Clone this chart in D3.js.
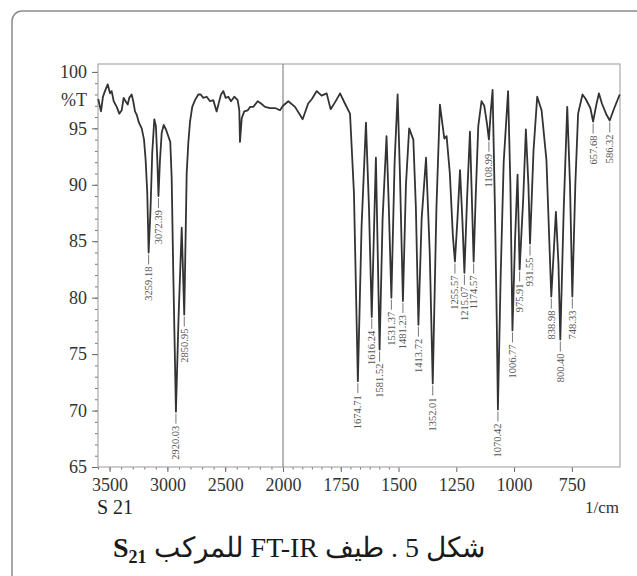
<!DOCTYPE html>
<html>
<head>
<meta charset="utf-8">
<script src="https://cdn.jsdelivr.net/npm/d3@7"></script>
<style>
body { margin: 0; background: #fff; }
</style>
</head>
<body>
<script>
// spectrum: wavenumber (1/cm) and %T
var wavenumber = [3598, 3574, 3557, 3540, 3516, 3496, 3482, 3464, 3438, 3416, 3395, 3378, 3361, 3343, 3330, 3309,
  3295, 3280, 3265, 3246, 3222, 3202, 3188, 3174, 3162, 3146, 3131, 3113, 3099, 3087, 3077, 3064, 3049, 3032,
  3012, 2992, 2975, 2963, 2949, 2926, 2904, 2876, 2854, 2843, 2833, 2819, 2804, 2785, 2761, 2733, 2712, 2689,
  2660, 2631, 2603, 2574, 2554, 2536, 2516, 2496, 2473, 2450, 2421, 2392, 2378, 2372, 2357, 2335, 2305, 2285,
  2257, 2219, 2190, 2156, 2112, 2069, 2026, 2000, 1977, 1948, 1915, 1891, 1875, 1854, 1833, 1811, 1794, 1775,
  1753, 1732, 1710, 1693, 1676, 1660, 1641, 1628, 1616, 1598, 1582, 1569, 1552, 1542, 1531, 1517, 1504, 1494,
  1481, 1468, 1454, 1436, 1425, 1414, 1400, 1381, 1365, 1352, 1336, 1321, 1302, 1292, 1278, 1265, 1256, 1245,
  1234, 1224, 1215, 1203, 1191, 1183, 1175, 1166, 1155, 1141, 1129, 1118, 1109, 1101, 1093, 1083, 1075, 1070,
  1058, 1045, 1026, 1016, 1007, 996, 985, 976, 960, 949, 938, 931, 916, 900, 881, 860, 839, 819, 808, 800, 785,
  770, 758, 748, 735, 723, 704, 690, 670, 658, 645, 633, 620, 600, 586, 570, 543];
var transmittance = [97.6, 96.5, 97.8, 98.3, 98.9, 98.1, 98.3, 97.4, 96.9, 96.3, 96.6, 97.7, 97.4, 97.1, 97.7, 98.0,
  97.4, 96.5, 96.2, 95.5, 95.0, 94.0, 92.2, 89.3, 84.0, 87.8, 92.8, 95.8, 95.2, 92.2, 89.0, 92.2, 94.6, 95.3,
  94.9, 94.3, 93.8, 90.7, 82.2, 69.9, 78.0, 86.2, 78.5, 85.0, 91.0, 93.7, 95.6, 96.9, 97.5, 98.0, 98.0, 97.7,
  97.8, 97.4, 97.5, 96.5, 97.3, 98.0, 98.3, 97.7, 97.8, 97.4, 97.8, 97.5, 96.6, 93.8, 95.9, 96.5, 96.6, 96.9,
  96.9, 97.4, 97.2, 96.9, 96.8, 96.8, 96.6, 97.0, 97.4, 96.9, 95.8, 97.2, 97.6, 98.3, 97.9, 98.1, 96.7, 97.3,
  98.1, 97.2, 96.3, 89.3, 72.6, 86.3, 95.5, 88.0, 78.3, 92.4, 75.4, 87.0, 94.3, 88.0, 80.0, 92.0, 98.0, 91.0,
  79.7, 90.0, 95.0, 94.0, 88.0, 77.6, 87.0, 92.4, 84.0, 72.4, 88.0, 97.1, 94.1, 94.3, 91.0, 85.5, 83.2, 87.0,
  91.3, 87.0, 82.2, 89.0, 94.7, 89.0, 83.2, 89.0, 95.2, 97.4, 97.0, 95.5, 94.0, 96.5, 98.4, 88.0, 78.0, 70.1,
  82.0, 92.0, 98.3, 90.0, 77.1, 85.0, 90.9, 82.5, 89.0, 94.9, 90.0, 84.8, 93.0, 97.8, 96.6, 92.2, 80.1, 87.6,
  83.0, 76.3, 88.0, 96.9, 90.0, 80.1, 90.0, 96.3, 98.0, 97.6, 96.8, 95.6, 97.0, 98.1, 97.2, 96.2, 95.7, 96.6, 98.0];

// labelled peaks: where the dip sits and the text printed beside it
var peakPositions = [3162, 3077, 2926, 2854, 1676, 1616, 1582, 1531, 1481, 1414, 1352, 1256, 1215, 1175, 1109,
  1070, 1007, 976, 931, 839, 800, 748, 658, 586];
var peakLabels = ["3259.18", "3072.39", "2920.03", "2850.95", "1674.71", "1616.24", "1581.52", "1531.37",
  "1481.23", "1413.72", "1352.01", "1255.57", "1215.07", "1174.57", "1108.99", "1070.42", "1006.77", "975.91",
  "931.55", "838.98", "800.40", "748.33", "657.68", "586.32"];

var yTicks = [65, 70, 75, 80, 85, 90, 95, 100];
var xTicks = [3500, 3000, 2500, 2000, 1750, 1500, 1250, 1000, 750];

var width = 637, height = 576;
var serif = "'Liberation Serif', 'Times New Roman', serif";

var svg = d3.select("body").append("svg").attr("width", width).attr("height", height);

// rounded frame around the figure (runs off the right and bottom)
svg.append("rect")
  .attr("x", 12).attr("y", 11).attr("width", 660).attr("height", 620)
  .attr("rx", 10).attr("fill", "none").attr("stroke", "#8a8a8a").attr("stroke-width", 1.5);

// two-part wavenumber scale, 500 per division left of 2000 and 250 right of it
var x = d3.scaleLinear().domain([3600, 2000, 541.67]).range([98, 283, 620]);
var y = d3.scaleLinear().domain([65, 100.7]).range([467, 64]);

// minor ticks
var minorX = d3.range(3600, 2000, -100).concat(d3.range(0, 12).map(function(i){ return 2000 - i * 250 / 6; }));
svg.append("g").attr("transform", "translate(0,467)")
  .call(d3.axisBottom(x).tickValues(minorX).tickSize(2.5).tickFormat(""))
  .call(function(g){ g.select(".domain").remove(); g.selectAll("line").attr("stroke", "#777"); });
svg.append("g").attr("transform", "translate(98,0)")
  .call(d3.axisLeft(y).tickValues(d3.range(65, 101, 1)).tickSize(3).tickFormat(""))
  .call(function(g){ g.select(".domain").remove(); g.selectAll("line").attr("stroke", "#777"); });

// major ticks + labels
var xAxis = svg.append("g").attr("transform", "translate(0,467)")
  .call(d3.axisBottom(x).tickValues(xTicks).tickSize(5).tickFormat(d3.format("d")));
xAxis.select(".domain").remove();
xAxis.selectAll("line").attr("stroke", "#666");
xAxis.selectAll("text").attr("y", 24).attr("dy", 0)
  .attr("font-family", serif).attr("font-size", 18).attr("fill", "#333");

var yAxis = svg.append("g").attr("transform", "translate(98,0)")
  .call(d3.axisLeft(y).tickValues(yTicks).tickSize(6).tickPadding(5));
yAxis.select(".domain").remove();
yAxis.selectAll("line").attr("stroke", "#666");
yAxis.selectAll("text").attr("font-family", serif).attr("font-size", 18).attr("fill", "#333");

// plot frame and the 2000 divider
svg.append("rect")
  .attr("x", 98).attr("y", 64).attr("width", 522).attr("height", 403)
  .attr("fill", "none").attr("stroke", "#aaa").attr("stroke-width", 1.2);
svg.append("line")
  .attr("x1", x(2000)).attr("x2", x(2000)).attr("y1", 64).attr("y2", 467)
  .attr("stroke", "#888").attr("stroke-width", 1.2);

// spectrum
var line = d3.line()
  .x(function(d, i){ return x(wavenumber[i]); })
  .y(function(d){ return y(d); });
svg.append("path")
  .datum(transmittance)
  .attr("d", line)
  .attr("fill", "none").attr("stroke", "#333").attr("stroke-width", 1.8)
  .attr("stroke-linejoin", "round");

// peak labels hanging under each dip
var peaks = peakPositions.map(function(p, i){
  var j = d3.minIndex(wavenumber, function(w){ return Math.abs(w - p); });
  return { px: x(wavenumber[j]), py: y(transmittance[j]), text: peakLabels[i] };
});
var pk = svg.append("g").selectAll("g").data(peaks).enter().append("g");
pk.append("line")
  .attr("x1", function(d){ return d.px; }).attr("x2", function(d){ return d.px; })
  .attr("y1", function(d){ return d.py + 2; }).attr("y2", function(d){ return d.py + 12; })
  .attr("stroke", "#666").attr("stroke-width", 0.9);
pk.append("text")
  .attr("transform", function(d){ return "translate(" + d.px + "," + (d.py + 14) + ") rotate(-90)"; })
  .attr("text-anchor", "end")
  .attr("dy", "0.33em")
  .attr("font-family", serif).attr("font-size", 10.5).attr("fill", "#555")
  .text(function(d){ return d.text; });

// axis captions
svg.append("text").attr("x", 87).attr("y", 106).attr("text-anchor", "end")
  .attr("font-family", serif).attr("font-size", 18).attr("fill", "#333").text("%T");
svg.append("text").attr("x", 97).attr("y", 514)
  .attr("font-family", serif).attr("font-size", 20).attr("fill", "#222").text("S 21");
svg.append("text").attr("x", 619).attr("y", 513).attr("text-anchor", "end")
  .attr("font-family", serif).attr("font-size", 17).attr("fill", "#333").text("1/cm");

// figure caption (Arabic, right to left)
var cap = svg.append("text")
  .attr("x", 299).attr("y", 557)
  .attr("text-anchor", "middle")
  .attr("direction", "rtl")
  .attr("font-family", serif).attr("font-size", 28).attr("fill", "#1a1a1a");
cap.append("tspan").text("شكل 5 . طيف FT-IR للمركب ");
cap.append("tspan").attr("font-weight", "bold").text("S");
cap.append("tspan").attr("font-weight", "bold").attr("font-size", 18).attr("dy", 6).text("21");
</script>
</body>
</html>
